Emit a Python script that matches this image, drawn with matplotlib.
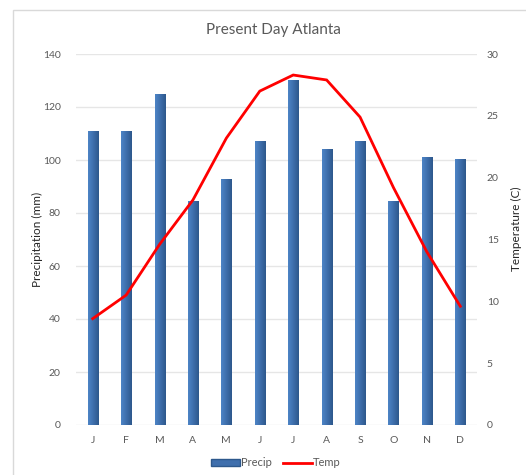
import matplotlib
matplotlib.use("Agg")
import matplotlib.pyplot as plt
from matplotlib.patches import Rectangle
from matplotlib.colors import LinearSegmentedColormap
from matplotlib.lines import Line2D
import numpy as np

plt.rcParams["font.family"] = ["Lato", "DejaVu Sans"]

# monthly climate normals
months = ["J", "F", "M", "A", "M", "J", "J", "A", "S", "O", "N", "D"]
precip = [110.8, 110.8, 124.9, 84.5, 93.0, 107.0, 130.2, 104.3, 107.0, 84.5, 101.3, 100.4]
temp = [8.6, 10.5, 14.6, 18.2, 23.2, 27.0, 28.3, 27.9, 24.9, 19.2, 14.0, 9.6]

grey_txt = "#595959"
grid_col = "#e6e6e6"

fig = plt.figure(figsize=(5.26, 4.75), dpi=100)
W, H = 526, 475

# chart frame
fig.patches.append(Rectangle((12.5 / W, -0.1), 1.2, 1.1 - 9.5 / H, transform=fig.transFigure,
                             fill=False, edgecolor="#d9d9d9", lw=1))

ax = fig.add_axes([76 / W, 50 / H, 401 / W, 371 / H])
ax2 = ax.twinx()
ax.set_zorder(1)
ax2.set_zorder(2)
ax.patch.set_visible(False)

x = np.arange(len(months))
bw = 0.3
bars = ax.bar(x, precip, width=bw, color="#3f6fad", edgecolor="#a3bcdc", lw=0.4, zorder=2)

# shaded fill on each bar
cmap = LinearSegmentedColormap.from_list("bar", ["#4d84c6", "#3e6eab", "#2d588c"])
grad = np.tile(np.linspace(0, 1, 32), (32, 1))
for b in bars:
    x0, y0 = b.get_x(), b.get_y()
    im = ax.imshow(grad, cmap=cmap, extent=[x0, x0 + b.get_width(), y0, y0 + b.get_height()],
                   aspect="auto", zorder=2.5, interpolation="bicubic")
    im.set_clip_path(b)

ax.set_xlim(-0.5, len(months) - 0.5)
ax.set_ylim(0, 140)
ax.set_yticks(range(0, 141, 20))
ax.set_xticks(x)
ax.set_xticklabels(months)
ax.grid(axis="y", color=grid_col, lw=1, zorder=0)
ax.set_axisbelow(True)

ax2.plot(x, temp, color="#ff0000", lw=2, zorder=3, solid_joinstyle="miter")
ax2.set_ylim(0, 30)
ax2.set_yticks(range(0, 31, 5))

for a in (ax, ax2):
    for s in a.spines.values():
        s.set_visible(False)
    a.tick_params(length=0, labelsize=7.5, labelcolor=grey_txt)
ax.tick_params(axis="y", pad=11)
ax.tick_params(axis="x", pad=8)
ax2.tick_params(axis="y", pad=7)

ax.set_ylabel("Precipitation (mm)", fontsize=8.5, color="#262626")
ax.yaxis.set_label_coords(-(76 - 43) / 401, 0.5)
ax2.set_ylabel("Temperature (C)", fontsize=8.5, color="#262626")
ax2.yaxis.set_label_coords((511 - 76) / 401, (425 - 229) / 371)

fig.text(273 / W, 1 - 30 / H, "Present Day Atlanta", ha="center", va="center",
         fontsize=11, color=grey_txt)

handles = [Rectangle((0, 0), 1, 1, facecolor="#3f6fad", edgecolor="#2d588c"),
           Line2D([0], [0], color="#ff0000", lw=2)]
fig.legend(handles, ["Precip", "Temp"], loc="center", bbox_to_anchor=(276 / W, 1 - 463 / H),
           ncol=2, frameon=False, fontsize=8, labelcolor=grey_txt, handlelength=2.6,
           handleheight=0.5, handletextpad=0.1, columnspacing=1.0)

fig.savefig("out.png", dpi=100)
